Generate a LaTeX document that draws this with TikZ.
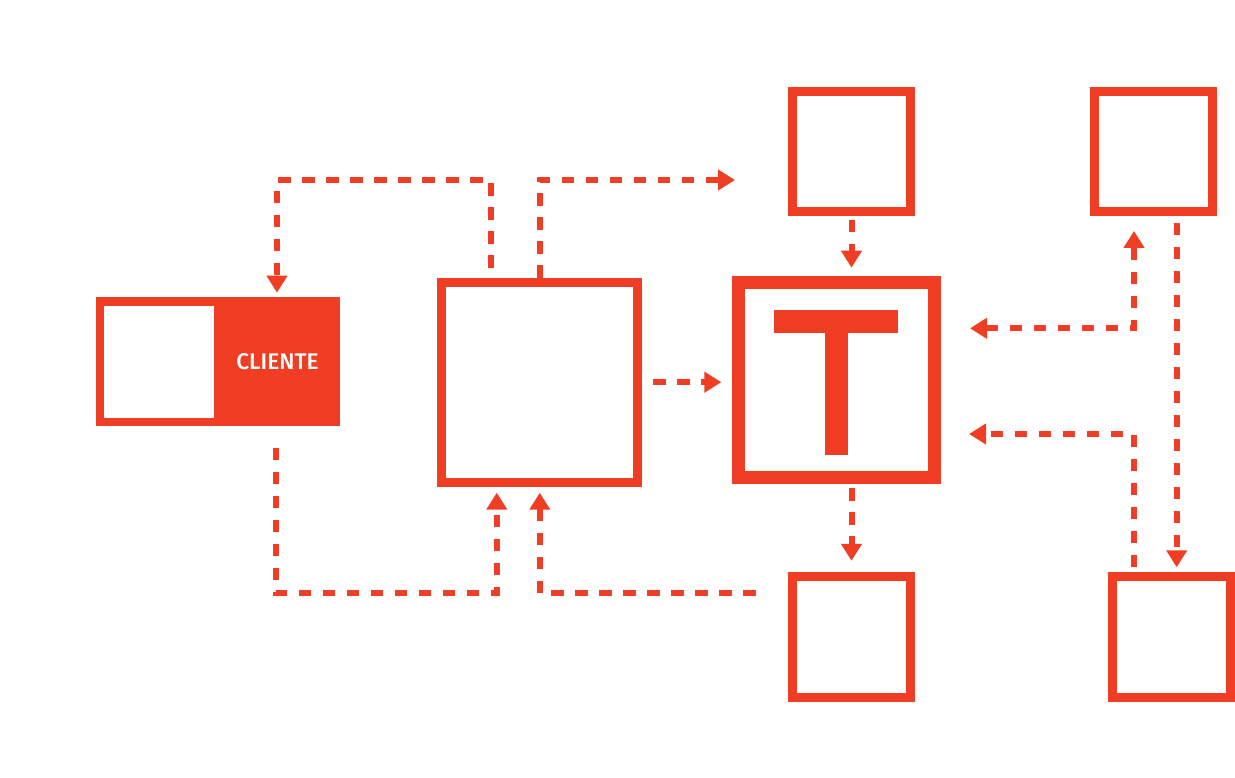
\documentclass[tikz,border=0pt]{standalone}
\usepackage{fontspec}
\newfontfamily\labelfont{Fira Sans Medium}
\usetikzlibrary{arrows.meta,calc}
\definecolor{tred}{RGB}{239,62,36}
\def\pu{0.75pt}
\begin{document}
\begin{tikzpicture}[x=0.75pt,y=-0.75pt,
  >={Triangle[width=15pt,length=12.75pt]},
  box/.style={draw=tred, line width=6.75pt, fill=white, inner sep=0pt},
  conn/.style={draw=tred, line width=4.5pt, dash pattern=on 9.2pt off 8.8pt, ->},
  ]
\useasboundingbox (0,0) rectangle (1235,778);

% client box
\node[fill=tred, draw=none, inner sep=0pt, minimum width=244*\pu, minimum height=129.5*\pu] (cliente) at (218,361.7) {};
\node[fill=white, draw=none, inner sep=0pt, minimum width=109.4*\pu, minimum height=111.7*\pu] (clientewin) at (159,361.8) {};
\node[text=white, inner sep=0pt, font=\labelfont\fontsize{17}{18}\selectfont] (lbl) at (277.5,361.7) {CLIENTE};

% boxes
\node[box, minimum width=196*\pu, minimum height=200*\pu] (B) at (539.8,382.2) {};
\node[box, line width=9.75pt, minimum width=195.7*\pu, minimum height=195.6*\pu] (T) at (836.7,380) {};
\fill[tred] (774.3,310) rectangle (898.3,332.7);
\fill[tred] (825.3,332) rectangle (848,455);
\node[box, minimum width=118*\pu, minimum height=120.3*\pu] (TM) at (851.5,151.3) {};
\node[box, minimum width=118*\pu, minimum height=120.3*\pu] (TR) at (1153,151.3) {};
\node[box, minimum width=118*\pu, minimum height=120.4*\pu] (BM) at (851.5,637) {};
\node[box, minimum width=117.7*\pu, minimum height=120.4*\pu] (BR) at (1171.7,637) {};

% connectors
\coordinate (k1) at (277,180);
\draw[conn] ($(B.north)+(-49,-10)$) |- (k1) -- ($(cliente.north -| k1)+(0,-4)$);
\coordinate (k2) at (735,180);
\draw[conn] (B.north) |- (k2);
\draw[conn] ($(B.east)+(11,0)$) -- ($(T.west |- B.east)+(-11,0)$);
\draw[conn] ($(TM.south)+(0,4)$) -- ($(TM.south |- T.north)+(0,-8)$);
\draw[conn] ($(T.south -| BM.north)+(0,4)$) -- ($(BM.north)+(0,-11.5)$);
\coordinate (k3) at (1134,328.3);
\draw[conn, <->] ($(T.east |- k3)+(29,0)$) -- (k3) -- ($(TR.south -| k3)+(0,15)$);
\coordinate (k4) at (1134,434);
\draw[conn] ($(BR.north -| k4)+(0,-5.5)$) -- (k4) -- ($(T.east |- k4)+(28,0)$);
\draw[conn] ($(TR.south)+(23.7,7)$) -- ($(BR.north)+(5,-5)$);
\coordinate (k5) at (276,593.3);
\draw[conn] ($(cliente.south -| k5)+(0,21.5)$) -- (k5) -| ($(B.south)+(-43,6)$);
\coordinate (k6) at ($(BM.west |- k5)+(-32.3,0)$);
\draw[conn] (k6) -| ($(B.south)+(0,6)$);
\end{tikzpicture}
\end{document}
